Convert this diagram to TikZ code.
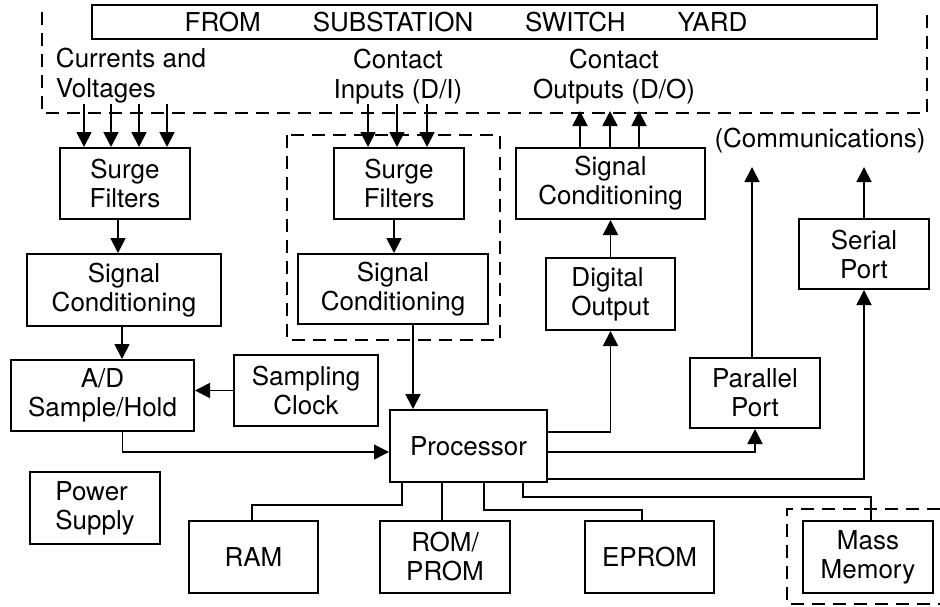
\documentclass[tikz,border=0pt]{standalone}
\usepackage{fontspec}
\setmainfont{TeX Gyre Heros}
\usetikzlibrary{arrows.meta, positioning, calc}

\tikzset{
  blk/.style={draw, line width=1pt, align=center, inner sep=0pt,
    font=\fontsize{13}{14.5}\selectfont},
  lbl/.style={inner sep=0pt, align=center, font=\fontsize{13}{15}\selectfont},
  arr/.style={line width=0.9pt, -{Triangle[length=7.5pt, width=7.5pt]}},
  thinarr/.style={line width=0.6pt, -{Triangle[length=7.5pt, width=7.5pt]}},
  wire/.style={line width=0.6pt},
  grp/.style={line width=0.8pt, dash pattern=on 6.5pt off 4pt},
}

\begin{document}
\begin{tikzpicture}[x=0.5pt, y=-0.5pt]
  \useasboundingbox (0,0) rectangle (940,606);
  % switch yard
  \node[blk, minimum width=392.5pt, minimum height=17pt, font=\fontsize{13}{14}\selectfont]
    (yard) at (484.5,22) {\hspace*{-18.5pt}FROM\hspace{2em}SUBSTATION\hspace{2em}SWITCH\hspace{2em}YARD};
  \draw[grp] (42,12) -- (42,113) -- (927,113) -- (927,15);
  \node[lbl, align=left] (cvlbl) at (131,76) {Currents and\\Voltages};
  \node[lbl] (dilbl) at (398,77) {Contact\\Inputs (D/I)};
  \node[lbl] (dolbl) at (614,77) {Contact\\Outputs (D/O)};
  \node[lbl] (comm) at (820,141) {(Communications)};
  % analog chain
  \node[blk, minimum width=65pt, minimum height=35.5pt] (sfL) at (125,183.5) {Surge\\Filters};
  \node[blk, minimum width=97pt, minimum height=36pt] (sigL) at (124,290) {Signal\\Conditioning};
  \node[blk, minimum width=91.5pt, minimum height=35.5pt] (adL) at (102.5,395.5) {A/D\\Sample/Hold};
  \node[blk, minimum width=72pt, minimum height=35.5pt] (clk) at (306,390.5) {Sampling\\Clock};
  % contact inputs
  \draw[grp] (287,135) rectangle (500,340);
  \node[blk, minimum width=65pt, minimum height=35.5pt] (sfM) at (399,183.5) {Surge\\Filters};
  \node[blk, minimum width=95pt, minimum height=35pt] (sigM) at (393,289) {Signal\\Conditioning};
  % processor and outputs
  \node[blk, minimum width=78.5pt, minimum height=36pt] (proc) at (468.5,446) {Processor};
  \node[blk, minimum width=94.5pt, minimum height=35.5pt] (sigR) at (610.5,183.5) {Signal\\Conditioning};
  \node[blk, align=left, minimum width=64.5pt, minimum height=36pt] (dout) at (610.5,294) {Digital\\Output};
  \node[blk, minimum width=65pt, minimum height=35pt] (par) at (755,393) {Parallel\\Port};
  \node[blk, minimum width=65pt, minimum height=35pt] (ser) at (864,254) {Serial\\Port};
  % bottom row
  \node[blk, align=left, minimum width=65pt, minimum height=36pt] (pow) at (95,508) {Power\\Supply};
  \node[blk, minimum width=64.5pt, minimum height=36pt] (ram) at (253.5,557) {RAM};
  \node[blk, minimum width=65pt, minimum height=36pt] (rom) at (445,557) {ROM/\\PROM};
  \node[blk, minimum width=64.5pt, minimum height=36pt] (eprom) at (649.5,557) {EPROM};
  \node[blk, minimum width=65pt, minimum height=36pt] (mass) at (868,557) {Mass\\Memory};
  \draw[grp] (940,509) -- (787,509) -- (787,604) -- (940,604);

  % inputs and outputs through the yard boundary
  \foreach \x [count=\i] in {84,111,139,167} {
    \coordinate (cv\i) at (\x,104);
    \draw[arr] (cv\i) -- (cv\i |- sfL.north);
  }
  \foreach \x [count=\i] in {368,397,427} {
    \coordinate (di\i) at (\x,104);
    \draw[arr] (di\i) -- (di\i |- sfM.north);
  }
  \foreach \x [count=\i] in {580,610,639} {
    \coordinate (do\i) at (\x,111);
    \draw[arr] (do\i |- sigR.north) -- (do\i);
  }
  \coordinate (commbus) at (0,167);

  % chains
  \draw[arr] ([xshift=-3.5pt]sfL.south) -- ([xshift=-3.5pt]sfL.south |- sigL.north);
  \draw[arr] ([xshift=-1pt]sigL.south) -- ([xshift=-1pt]sigL.south |- adL.north);
  \draw[arr] (clk.west) -- (clk.west -| adL.east);
  \draw[arr] ([xshift=-2.5pt]sfM.south) -- ([xshift=-2.5pt]sfM.south |- sigM.north);
  \draw[arr] ([xshift=10pt]sigM.south) -- ([xshift=10pt]sigM.south |- proc.north);
  \draw[thinarr] ([xshift=10pt]adL.south) |- ([yshift=-3pt]proc.west);
  \draw[arr] ([yshift=7pt]proc.east) -| (dout.south);
  \draw[arr] (dout.north) -- (sigR.south);
  \draw[arr] ([yshift=-3pt]proc.east) -| (par.south);
  \draw[arr] ([yshift=-16.5pt]proc.east) -| (ser.south);
  \draw[arr] ([xshift=-1.5pt]par.north) -- ([xshift=-1.5pt]par.north |- commbus);
  \draw[arr] (ser.north) -- (ser.north |- commbus);

  % memory bus
  \draw[wire] ([xshift=-33.25pt]proc.south) -- ++(0,22) -| ([xshift=-0.75pt]ram.north);
  \draw[wire] ([xshift=-1.5pt]rom.north) -- ([xshift=-1.5pt]rom.north |- proc.south);
  \draw[wire] ([xshift=7.75pt]proc.south) -- ++(0,27) -| ([xshift=-3.75pt]eprom.north);
  \draw[wire] ([xshift=27.25pt]proc.south) -- ++(0,14) -| ([xshift=1.5pt]mass.north);
\end{tikzpicture}
\end{document}
